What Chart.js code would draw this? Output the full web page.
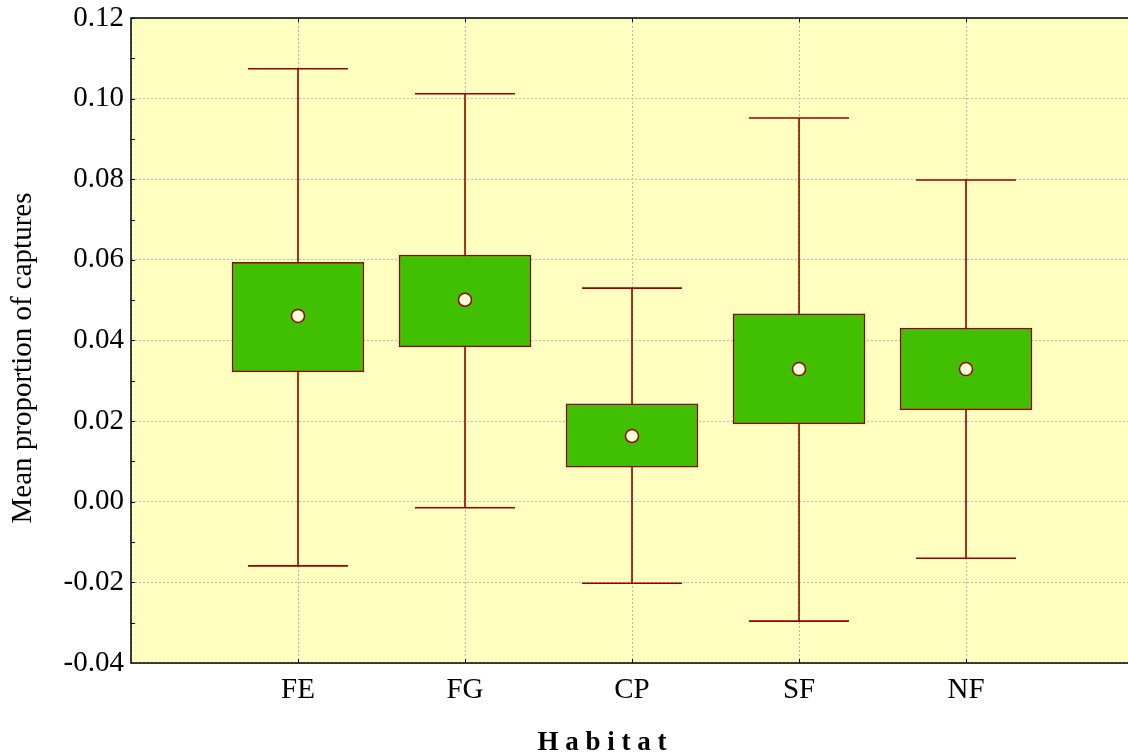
<!DOCTYPE html>
<html>
<head>
<meta charset="utf-8">
<script src="https://cdn.jsdelivr.net/npm/chart.js@4.4.0/dist/chart.umd.min.js"></script>
<style>
    html, body { margin: 0; padding: 0; background: #ffffff; }
    #chart { display: block; }
</style>
</head>
<body>
<canvas id="chart" width="1128" height="756"></canvas>
<script>
// Data
const categories = ["FE", "FG", "CP", "SF", "NF"];
const means      = [0.0461, 0.0501, 0.0163, 0.0329, 0.0329];
const boxLow     = [0.0322, 0.0384, 0.0086, 0.0193, 0.0228];
const boxHigh    = [0.0594, 0.0612, 0.0243, 0.0466, 0.0431];
const whiskLow   = [-0.0159, -0.0015, -0.0202, -0.0296, -0.0140];
const whiskHigh  = [0.1074, 0.1012, 0.0530, 0.0952, 0.0798];
const yTicks     = [-0.04, -0.02, 0.00, 0.02, 0.04, 0.06, 0.08, 0.10, 0.12];

const SERIF = "'Liberation Serif', 'Times New Roman', serif";
const WHISKER = "#990000";

// Background, whiskers, borders, inside ticks and titles
const decorPlugin = {
    id: "decor",
    beforeDraw(chart) {
        let ctx = chart.ctx;
        let a = chart.chartArea;
        ctx.save();
        ctx.fillStyle = "#ffffc0";
        ctx.fillRect(a.left, a.top, a.right - a.left, a.bottom - a.top);
        ctx.restore();
    },
    beforeDatasetsDraw(chart) {
        let ctx = chart.ctx;
        let x = chart.scales.x, y = chart.scales.y;
        ctx.save();
        ctx.strokeStyle = WHISKER;
        ctx.lineWidth = 1.6;
        for (let i = 0; i < categories.length; i++) {
            let px = x.getPixelForValue(i + 1);
            let lo = y.getPixelForValue(whiskLow[i]);
            let hi = y.getPixelForValue(whiskHigh[i]);
            ctx.beginPath();
            ctx.moveTo(px, lo);
            ctx.lineTo(px, hi);
            ctx.moveTo(px - 50, lo);
            ctx.lineTo(px + 50, lo);
            ctx.moveTo(px - 50, hi);
            ctx.lineTo(px + 50, hi);
            ctx.stroke();
        }
        ctx.restore();
    },
    afterDraw(chart) {
        let ctx = chart.ctx;
        let a = chart.chartArea;
        let x = chart.scales.x, y = chart.scales.y;
        ctx.save();
        ctx.strokeStyle = "#000000";
        ctx.lineWidth = 1.5;

        // frame: top, left, bottom
        ctx.beginPath();
        ctx.moveTo(a.right, a.top);
        ctx.lineTo(a.left, a.top);
        ctx.lineTo(a.left, a.bottom);
        ctx.lineTo(a.right, a.bottom);
        ctx.stroke();

        // minor/major ticks inside the frame
        ctx.lineWidth = 1;
        ctx.beginPath();
        for (let v = -0.03; v < 0.12; v += 0.01) {
            let py = Math.round(y.getPixelForValue(v)) + 0.5;
            ctx.moveTo(a.left, py);
            ctx.lineTo(a.left + 4, py);
        }
        for (let i = 0; i < categories.length; i++) {
            let px = Math.round(x.getPixelForValue(i + 1)) + 0.5;
            ctx.moveTo(px, a.top);
            ctx.lineTo(px, a.top + 4);
            ctx.moveTo(px, a.bottom);
            ctx.lineTo(px, a.bottom - 4);
        }
        ctx.stroke();

        // axis titles
        ctx.fillStyle = "#000000";
        ctx.textAlign = "center";
        ctx.textBaseline = "middle";
        ctx.font = "29px " + SERIF;
        ctx.translate(23, 358);
        ctx.rotate(-Math.PI / 2);
        ctx.fillText("Mean proportion of captures", 0, 0);
        ctx.restore();

        ctx.save();
        ctx.fillStyle = "#000000";
        ctx.textAlign = "center";
        ctx.textBaseline = "alphabetic";
        ctx.font = "bold 27px " + SERIF;
        ctx.fillText("H a b i t a t", 602, 750);
        ctx.restore();
    }
};

new Chart(document.getElementById("chart").getContext("2d"), {
    data: {
        datasets: [
            {
                type: "scatter",
                data: categories.map((c, i) => ({ x: i + 1, y: means[i] })),
                pointRadius: 6.5,
                pointHoverRadius: 6.5,
                pointBackgroundColor: "#ffffd8",
                pointBorderColor: WHISKER,
                pointBorderWidth: 1.5,
            },
            {
                type: "bar",
                data: categories.map((c, i) => ({ x: i + 1, y: [boxLow[i], boxHigh[i]] })),
                backgroundColor: "#40c000",
                borderColor: WHISKER,
                borderWidth: 1.5,
                borderSkipped: false,
                barThickness: 132,
            },
        ]
    },
    options: {
        responsive: false,
        animation: false,
        events: [],
        layout: { padding: 0, autoPadding: false },
        plugins: {
            legend: { display: false },
            tooltip: { enabled: false },
        },
        scales: {
            x: {
                type: "linear",
                min: 0,
                max: 5.97,   // frame runs slightly past the right edge of the picture
                offset: false,
                afterFit: s => {
                    s.height = 93;
                    s.paddingLeft = 0;
                    s.paddingRight = 0;
                },
                afterBuildTicks: s => { s.ticks = [0, 1, 2, 3, 4, 5].map(v => ({ value: v })); },
                ticks: {
                    autoSkip: false,
                    maxRotation: 0,
                    padding: 10,
                    color: "#000000",
                    font: { family: SERIF, size: 29 },
                    callback: v => categories[v - 1] || "",
                },
                grid: {
                    offset: false,
                    drawTicks: false,
                    color: "#b8b8b8",
                    lineWidth: 1,
                },
                border: { display: false, dash: [2, 2] },
            },
            y: {
                min: -0.04,
                max: 0.12,
                afterFit: s => {
                    s.width = 131;
                    s.paddingTop = 18;
                    s.paddingBottom = 0;
                },
                afterBuildTicks: s => { s.ticks = yTicks.map(v => ({ value: v })); },
                ticks: {
                    padding: 7,
                    color: "#000000",
                    font: { family: SERIF, size: 29 },
                    callback: v => v.toFixed(2),
                },
                grid: {
                    drawTicks: false,
                    color: "#b8b8b8",
                    lineWidth: 1,
                },
                border: { display: false, dash: [2, 2] },
            }
        }
    },
    plugins: [decorPlugin]
});
</script>
</body>
</html>
